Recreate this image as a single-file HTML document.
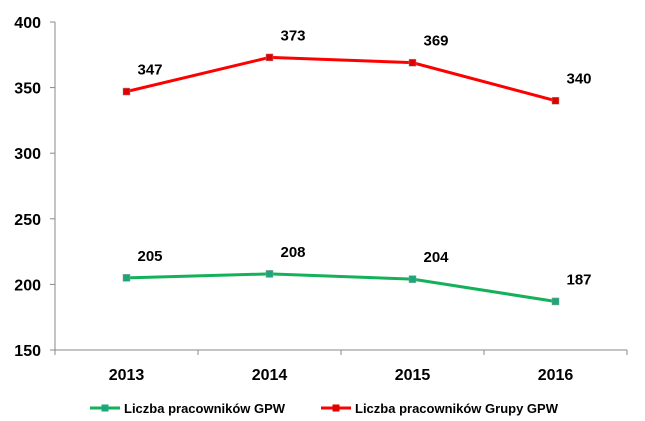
<!DOCTYPE html>
<html><head><meta charset="utf-8"><style>
body{margin:0;background:#fff;}
svg{display:block;font-family:"Liberation Sans",Arial,sans-serif;font-weight:bold;}
</style></head><body>
<svg width="645" height="421">
<g id="axes"></g><g id="series"></g>
<g>
<g>
<line x1="90" y1="408" x2="120" y2="408" stroke="#13B25A" stroke-width="3"/>
<rect x="101.5" y="404.5" width="7" height="7" fill="#1AA87B"/>
<text x="124" y="413" font-size="13" fill="#000">Liczba pracowników GPW</text></g>
<g>
<line x1="321" y1="408" x2="351" y2="408" stroke="#FF0000" stroke-width="3"/>
<rect x="332.5" y="404.5" width="7" height="7" fill="#E00000"/>
<text x="355" y="413" font-size="13" fill="#000">Liczba pracowników Grupy GPW</text></g>
</g>
</svg>
<script>
const categories=["2013","2014","2015","2016"];
const gpwValues=[205,208,204,187];
const grupaValues=[347,373,369,340];
const yTicks=[150,200,250,300,350,400];
const NS="http://www.w3.org/2000/svg";
const x0=55,x1=627,yTop=22,yBot=350,yMin=150,yMax=400;
const band=(x1-x0)/categories.length;
function xs(i){return x0+band*(i+0.5);}
function ys(v){return yBot-(v-yMin)/(yMax-yMin)*(yBot-yTop);}
function mk(tag,attrs,parent){const e=document.createElementNS(NS,tag);for(const k in attrs)e.setAttribute(k,attrs[k]);parent.appendChild(e);return e;}
const axes=document.getElementById('axes');
const ya=mk('line',{x1:x0,y1:yTop,x2:x0,y2:yBot,stroke:'#888','stroke-width':1},axes);


const xa=mk('line',{x1:x0,y1:yBot,x2:x1,y2:yBot,stroke:'#888','stroke-width':1},axes);


yTicks.forEach(v=>{
 mk('line',{x1:x0-5,y1:ys(v),x2:x0,y2:ys(v),stroke:'#888'},axes);
 const t=mk('text',{x:x0-14,y:ys(v)+6,'text-anchor':'end','font-size':16,fill:'#000'},axes);
 t.textContent=v;
 
 
});
for(let i=0;i<=categories.length;i++){mk('line',{x1:x0+band*i,y1:yBot,x2:x0+band*i,y2:yBot+5,stroke:'#888'},axes);}
categories.forEach((c,i)=>{
 const t=mk('text',{x:xs(i),y:yBot+30,'text-anchor':'middle','font-size':16,fill:'#000'},axes);
 t.textContent=c;
 
 
});
const ser=document.getElementById('series');
function draw(vals,color,mcol,name){
 const g=mk('g',{},ser);
 
 
 mk('polyline',{points:vals.map((v,i)=>xs(i)+','+ys(v)).join(' '),fill:'none',stroke:color,'stroke-width':3},g);
 vals.forEach((v,i)=>{
  const r=mk('rect',{x:xs(i)-3.5,y:ys(v)-3.5,width:7,height:7,fill:mcol,stroke:'#999','stroke-width':0.5},g);
  
  
  const t=mk('text',{x:xs(i)+11,y:ys(v)-17,'font-size':15,fill:'#000'},g);
  t.textContent=v;
  
  
 });
}
draw(grupaValues,'#FF0000','#E00000','series-grupa-gpw');
draw(gpwValues,'#13B25A','#1AA87B','series-gpw');
</script>
</body></html>
